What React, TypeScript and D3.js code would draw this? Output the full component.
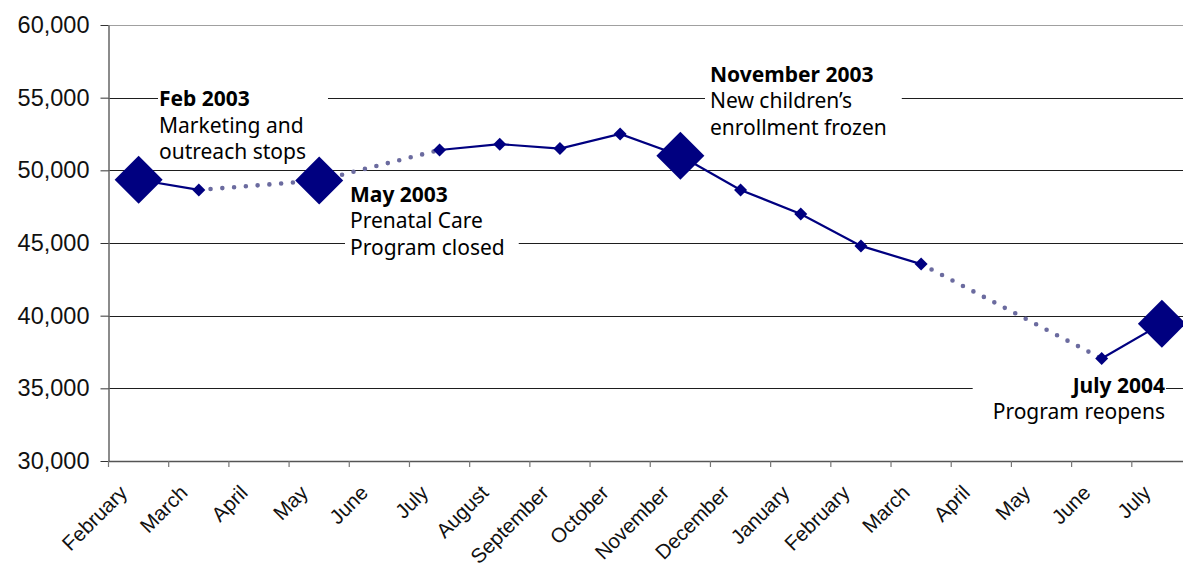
import React, { useEffect, useRef } from 'react';
import * as d3 from 'd3';

// ---- data ----
const months: string[] = [
  'February', 'March', 'April', 'May', 'June', 'July', 'August', 'September',
  'October', 'November', 'December', 'January', 'February', 'March', 'April',
  'May', 'June', 'July',
];
const enrollment: (number | null)[] = [
  49350, 48650, null, 49300, null, 51400, 51800, 51500, 52500, 51000,
  48650, 47000, 44800, 43550, null, null, 37050, 39450,
];
const milestoneIdx: number[] = [0, 3, 9, 17];
const yTicks: number[] = [30000, 35000, 40000, 45000, 50000, 55000, 60000];
const annotationTitles: string[] = ['Feb 2003', 'May 2003', 'November 2003', 'July 2004'];
const annotationBodies: string[][] = [
  ['Marketing and', 'outreach stops'],
  ['Prenatal Care', 'Program closed'],
  ['New children\u2019s', 'enrollment frozen'],
  ['Program reopens'],
];

// ---- layout / style ----
const W = 1183;
const H = 564;
const LEFT = 108.5;
const RIGHT = 1192;
const TOP = 25;
const BOTTOM = 461;
const NAVY = '#000080';
const DOT = '#6b6b9f';
const AXIS_FONT = "'Liberation Sans', Arial, sans-serif";
const ANN_FONT = "'Noto Sans', 'Open Sans', sans-serif";

const annLayout = [
  { x: 159, y: 106, anchor: 'start', padL: 1, padR: 22 },
  { x: 350, y: 201.5, anchor: 'start', padL: 5, padR: 14 },
  { x: 710, y: 81.5, anchor: 'start', padL: 5, padR: 15 },
  { x: 1165, y: 392.5, anchor: 'end', padL: 20, padR: 1 },
];
const LINE_H = 26.7;
const ANN_SIZE = 21;

export default function App() {
  const ref = useRef<SVGSVGElement | null>(null);

  useEffect(() => {
    document.body.style.margin = '0';
    const svg = d3.select(ref.current);
    svg.selectAll('*').remove();

    const idx = months.map((_, i) => String(i));
    const x = d3.scaleBand<string>().domain(idx).range([LEFT, RIGHT]).padding(0);
    const bw = x.bandwidth();
    const cx = (i: number) => (x(String(i)) as number) + bw / 2;
    const y = d3.scaleLinear().domain([30000, 60000]).range([BOTTOM, TOP]);

    // gridlines
    svg.append('g')
      .selectAll('line')
      .data(yTicks.filter((t) => t > 30000))
      .join('line')
      .attr('x1', LEFT)
      .attr('x2', W)
      .attr('y1', (d) => Math.round(y(d)) + 0.5)
      .attr('y2', (d) => Math.round(y(d)) + 0.5)
      .attr('stroke', (d) => (d === 60000 ? '#a0a0a0' : '#1e1e1e'))
      .attr('stroke-width', 1);

    // annotation boxes + text
    const annG = svg.append('g');
    annotationTitles.forEach((title, k) => {
      const L = annLayout[k];
      const g = annG.append('g');
      const rect = g.append('rect').attr('fill', '#fff');
      const t = g.append('text')
        .attr('font-family', ANN_FONT)
        .attr('font-size', ANN_SIZE)
        .attr('fill', '#000')
        .attr('text-anchor', L.anchor);
      t.append('tspan').attr('x', L.x).attr('y', L.y).attr('font-weight', 700).text(title);
      annotationBodies[k].forEach((line, j) => {
        t.append('tspan').attr('x', L.x).attr('y', L.y + LINE_H * (j + 1)).text(line);
      });
      const bb = (t.node() as SVGTextElement).getBBox();
      rect
        .attr('x', bb.x - L.padL)
        .attr('y', bb.y - 2)
        .attr('width', bb.width + L.padL + L.padR)
        .attr('height', bb.height + 6);
    });

    // y axis
    const gY = svg.append('g')
      .attr('transform', `translate(${LEFT},0)`)
      .call(
        d3.axisLeft(y)
          .tickValues(yTicks)
          .tickSize(8)
          .tickSizeOuter(0)
          .tickPadding(11)
          .tickFormat(d3.format(',') as any)
      );
    gY.select('.domain').attr('stroke', '#6e6e6e').attr('stroke-width', 1.6);
    gY.selectAll('.tick line').attr('stroke', '#333');
    gY.selectAll('.tick text')
      .attr('font-family', AXIS_FONT)
      .attr('font-size', 23.5)
      .attr('fill', '#111');

    // x axis line
    svg.append('line')
      .attr('x1', LEFT).attr('x2', W)
      .attr('y1', BOTTOM + 0.5).attr('y2', BOTTOM + 0.5)
      .attr('stroke', '#555').attr('stroke-width', 1.4);
    // x tick marks at band boundaries
    svg.append('g')
      .selectAll('line')
      .data(d3.range(months.length + 1))
      .join('line')
      .attr('x1', (i) => LEFT + i * bw)
      .attr('x2', (i) => LEFT + i * bw)
      .attr('y1', BOTTOM)
      .attr('y2', BOTTOM + 6)
      .attr('stroke', '#777')
      .attr('stroke-width', 1.2);
    // x labels
    svg.append('g')
      .selectAll('text')
      .data(months)
      .join('text')
      .attr('transform', (_, i) => `translate(${cx(i) - 10},${BOTTOM + 33}) rotate(-45)`)
      .attr('text-anchor', 'end')
      .attr('font-family', AXIS_FONT)
      .attr('font-size', 20.5)
      .attr('fill', '#111')
      .text((d) => d);

    // dotted bridges over gaps
    const pts = enrollment.map((v, i) => ({ i, v }));
    const defined = pts.filter((p) => p.v !== null) as { i: number; v: number }[];
    const bridges: [typeof defined[0], typeof defined[0]][] = [];
    for (let k = 0; k < defined.length - 1; k++) {
      if (defined[k + 1].i - defined[k].i > 1) bridges.push([defined[k], defined[k + 1]]);
    }
    const lineGen = d3.line<{ i: number; v: number | null }>()
      .defined((d) => d.v !== null)
      .x((d) => cx(d.i))
      .y((d) => y(d.v as number));

    svg.append('g')
      .selectAll('path')
      .data(bridges)
      .join('path')
      .attr('d', (b) => lineGen(b as any))
      .attr('fill', 'none')
      .attr('stroke', DOT)
      .attr('stroke-width', 4.6)
      .attr('stroke-linecap', 'round')
      .attr('stroke-dasharray', '0 11.8');

    // solid line
    svg.append('path')
      .attr('d', lineGen(pts) as string)
      .attr('fill', 'none')
      .attr('stroke', NAVY)
      .attr('stroke-width', 2.2);

    const diamond = (r: number) => `M0,${-r}L${r},0L0,${r}L${-r},0Z`;
    // small markers
    svg.append('g')
      .selectAll('path')
      .data(defined.filter((p) => !milestoneIdx.includes(p.i)))
      .join('path')
      .attr('transform', (p) => `translate(${cx(p.i)},${y(p.v)})`)
      .attr('d', diamond(6.5))
      .attr('fill', NAVY);
    // milestone markers
    svg.append('g')
      .selectAll('path')
      .data(defined.filter((p) => milestoneIdx.includes(p.i)))
      .join('path')
      .attr('transform', (p) => `translate(${cx(p.i)},${y(p.v)})`)
      .attr('d', diamond(24))
      .attr('fill', NAVY);
  }, []);

  return (
    <svg
      ref={ref}
      width={W}
      height={H}
      style={{ position: 'absolute', left: 0, top: 0, display: 'block', background: '#fff' }}
    />
  );
}
